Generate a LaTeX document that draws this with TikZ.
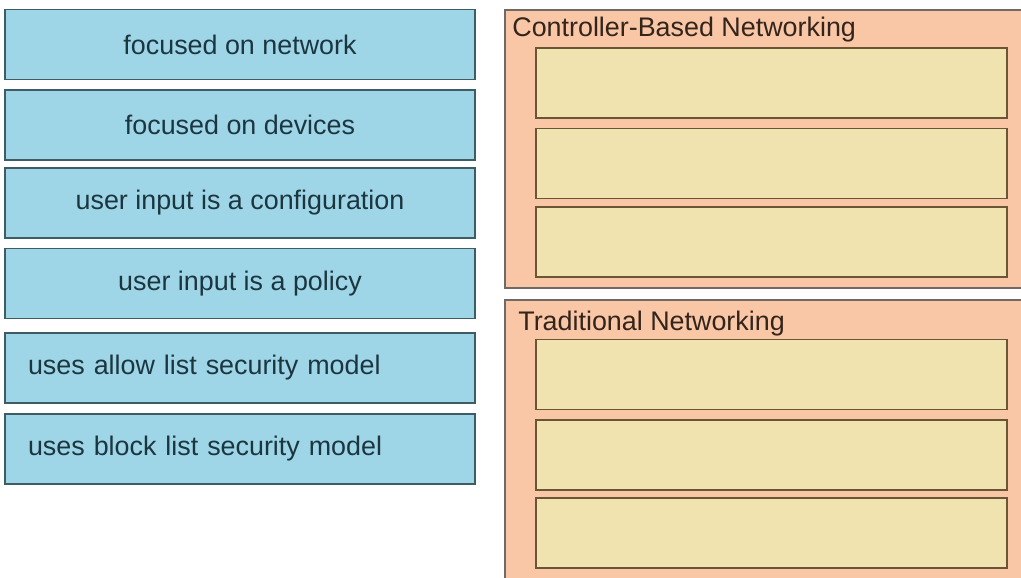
\documentclass[tikz,border=0pt]{standalone}
\usepackage{fontspec}
\setmainfont{Liberation Sans}
\definecolor{itemblue}{HTML}{9ED6E8}
\definecolor{itemedge}{HTML}{3E5C63}
\definecolor{itemtext}{HTML}{1C3640}
\definecolor{panelfill}{HTML}{F9C6A6}
\definecolor{paneledge}{HTML}{6F6A66}
\definecolor{slotfill}{HTML}{F1E3AF}
\definecolor{slotedge}{HTML}{6A5536}
\definecolor{headtext}{HTML}{33241C}
\tikzset{
  item/.style={draw=itemedge, line width=0.9pt, fill=itemblue, text=itemtext,
    minimum width=9.4cm, minimum height=1.4cm, inner sep=0pt,
    font=\fontsize{15.3}{18}\selectfont},
  leftitem/.style={item, text width=8.48cm, inner xsep=0.46cm, align=left},
  panel/.style={draw=paneledge, line width=0.9pt, fill=panelfill},
  slot/.style={draw=slotedge, line width=1.1pt, fill=slotfill,
    minimum width=9.42cm, minimum height=1.4cm},
  head/.style={text=headtext, inner sep=0pt, anchor=base west,
    font=\fontsize{15.3}{18}\selectfont}
}
\begin{document}
\begin{tikzpicture}[x=0.02cm,y=-0.02cm]
\clip (0,0) rectangle (1021,578);
\fill[white] (0,0) rectangle (1021,578);
% answer choices
\node[item] (network) at (240,44.5) {focused on network};
\node[item] (devices) at (240,125) {focused on devices};
\node[item] (config) at (240,203) {user input is a configuration};
\node[item] (policy) at (240,283.5) {user input is a policy};
\node[leftitem] (allow) at (240,368) {uses allow list security model};
\node[leftitem] (block) at (240,449) {uses block list security model};
% controller-based
\draw[panel] (505,10) rectangle (1030,288);
\node[head] (cbnhead) at (512,36) {Controller-Based Networking};
\node[slot] (cbn1) at (771.5,83) {};
\node[slot] (cbn2) at (771.5,163.5) {};
\node[slot] (cbn3) at (771.5,242) {};
% traditional
\draw[panel] (505,300) rectangle (1030,590);
\node[head] (tradhead) at (518,330) {Traditional Networking};
\node[slot] (trad1) at (771.5,374.5) {};
\node[slot] (trad2) at (771.5,455) {};
\node[slot] (trad3) at (771.5,533) {};
\end{tikzpicture}
\end{document}
